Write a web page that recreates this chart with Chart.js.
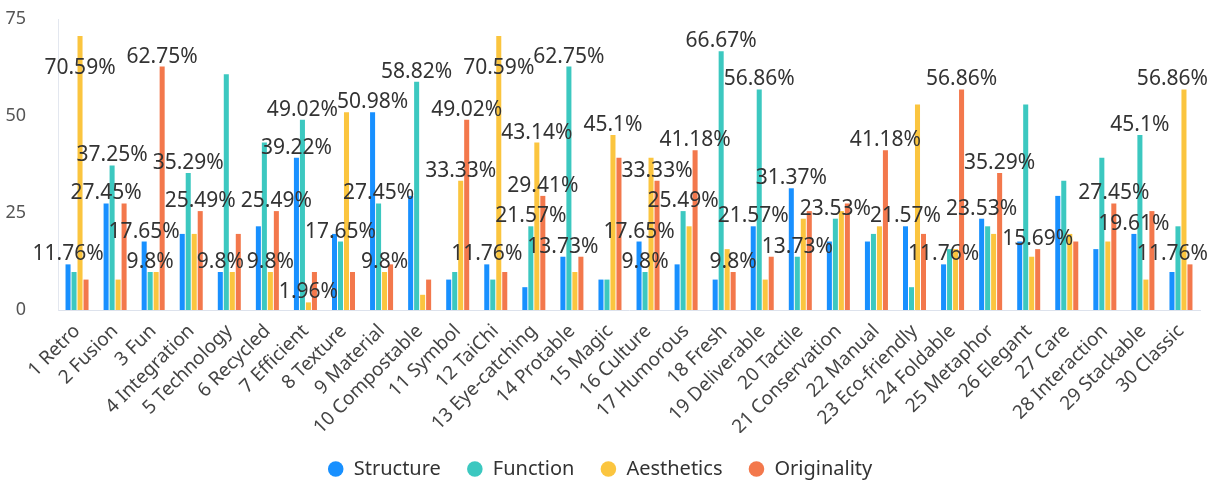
<!DOCTYPE html>
<html>
<head>
<meta charset="utf-8">
<script src="https://cdn.jsdelivr.net/npm/chart.js@4.4.1/dist/chart.umd.min.js"></script>
<style>
  html, body { margin: 0; padding: 0; background: #fff; }
  #wrap { width: 1218px; height: 486px; }
</style>
</head>
<body>
<div id="wrap"><canvas id="chart" width="1218" height="486"></canvas></div>
<script>
const categories = ['1 Retro', '2 Fusion', '3 Fun', '4 Integration', '5 Technology', '6 Recycled',
  '7 Efficient', '8 Texture', '9 Material', '10 Compostable', '11 Symbol', '12 TaiChi',
  '13 Eye-catching', '14 Protable', '15 Magic', '16 Culture', '17 Humorous', '18 Fresh',
  '19 Deliverable', '20 Tactile', '21 Conservation', '22 Manual', '23 Eco-friendly', '24 Foldable',
  '25 Metaphor', '26 Elegant', '27 Care', '28 Interaction', '29 Stackable', '30 Classic'];

const structure = [11.76, 27.45, 17.65, 19.61, 9.8, 21.57, 39.22, 19.61, 50.98, 29.41,
  7.84, 11.76, 5.88, 13.73, 7.84, 17.65, 11.76, 7.84, 21.57, 31.37,
  17.65, 17.65, 21.57, 11.76, 23.53, 17.65, 29.41, 15.69, 19.61, 9.8];
const functionality = [9.8, 37.25, 9.8, 35.29, 60.78, 43.14, 49.02, 17.65, 27.45, 58.82,
  9.8, 7.84, 21.57, 62.75, 7.84, 9.8, 25.49, 66.67, 56.86, 13.73,
  23.53, 19.61, 5.88, 15.69, 21.57, 52.94, 33.33, 39.22, 45.1, 21.57];
const aesthetics = [70.59, 7.84, 9.8, 19.61, 9.8, 9.8, 1.96, 50.98, 9.8, 3.92,
  33.33, 70.59, 43.14, 9.8, 45.1, 39.22, 21.57, 15.69, 7.84, 23.53,
  25.49, 21.57, 52.94, 15.69, 19.61, 13.73, 19.61, 17.65, 7.84, 56.86];
const originality = [7.84, 27.45, 62.75, 25.49, 19.61, 25.49, 9.8, 9.8, 11.76, 7.84,
  49.02, 9.8, 29.41, 13.73, 39.22, 33.33, 41.18, 9.8, 13.73, 25.49,
  27.45, 41.18, 19.61, 56.86, 35.29, 15.69, 17.65, 27.45, 25.49, 11.76];

const seriesNames = ['Structure', 'Function', 'Aesthetics', 'Originality'];
const seriesColors = ['#1890ff', '#3cc8c0', '#fbc53f', '#f3784c'];
const yMax = 75;
const yStep = 25;

const FONT = '"Noto Sans", "DejaVu Sans", sans-serif';
Chart.defaults.font.family = FONT;

// value labels on top of bars, lower ones hidden when they collide with a bigger one
const LABEL_H = 25;
const LABEL_GAP = 5;
const barLabels = {
  id: 'barLabels',
  afterDatasetsDraw(chart) {
    const ctx = chart.ctx;
    const area = chart.chartArea;
    ctx.save();
    ctx.font = '21px ' + FONT;
    ctx.fillStyle = '#333';
    ctx.textAlign = 'center';
    const items = [];
    chart.data.datasets.forEach((ds, di) => {
      chart.getDatasetMeta(di).data.forEach((bar, i) => {
        items.push({ v: ds.data[i], text: ds.data[i] + '%', x: bar.x, top: bar.y, n: items.length });
      });
    });
    items.sort((a, b) => b.v - a.v || a.n - b.n);
    const shown = [];
    for (const it of items) {
      const w = ctx.measureText(it.text).width;
      let bottom = it.top - LABEL_GAP;
      // too high for the plot: put it just under the top of the bar
      if (bottom - LABEL_H < area.top) bottom = it.top + 37;
      const cx = Math.min(it.x, chart.width - 10 - w / 2);
      const r = { l: cx - w / 2 + 1, r: cx + w / 2 - 1, t: bottom - LABEL_H, b: bottom };
      if (shown.some(s => s.l < r.r && r.l < s.r && s.t < r.b && r.t < s.b)) continue;
      shown.push(r);
      ctx.fillText(it.text, cx, bottom - 5);
    }
    ctx.restore();
  }
};

const allSeries = [structure, functionality, aesthetics, originality];

new Chart(document.getElementById('chart'), {
  type: 'bar',
  data: {
    labels: categories,
    datasets: allSeries.map((d, i) => ({
      label: seriesNames[i],
      data: d,
      backgroundColor: seriesColors[i],
      borderWidth: 0,
      categoryPercentage: 0.63,
      barPercentage: 0.84
    }))
  },
  options: {
    responsive: false,
    animation: false,
    layout: { padding: { top: 19, right: 18, left: 0, bottom: -3 } },
    plugins: {
      legend: {
        position: 'bottom',
        labels: {
          usePointStyle: true,
          pointStyle: 'circle',
          boxWidth: 16,
          boxHeight: 11,
          padding: 26,
          color: '#333',
          font: { size: 20 }
        }
      },
      tooltip: { enabled: false }
    },
    scales: {
      x: {
        grid: { display: false },
        border: { color: '#dde2ec' },
        ticks: {
          autoSkip: false,
          minRotation: 45,
          maxRotation: 45,
          color: '#444',
          font: { size: 19 },
          padding: 2
        },
        afterFit(scale) { scale.height = 123; }
      },
      y: {
        min: 0,
        max: yMax,
        grid: { display: false },
        border: { color: '#e3e7ef' },
        ticks: { stepSize: yStep, color: '#555', font: { size: 18 }, padding: 24 },
        afterFit(scale) {
          scale.width = 58;
          scale.paddingTop = 0;
          scale.paddingBottom = 0;
        }
      }
    }
  },
  plugins: [barLabels]
});
</script>
</body>
</html>
